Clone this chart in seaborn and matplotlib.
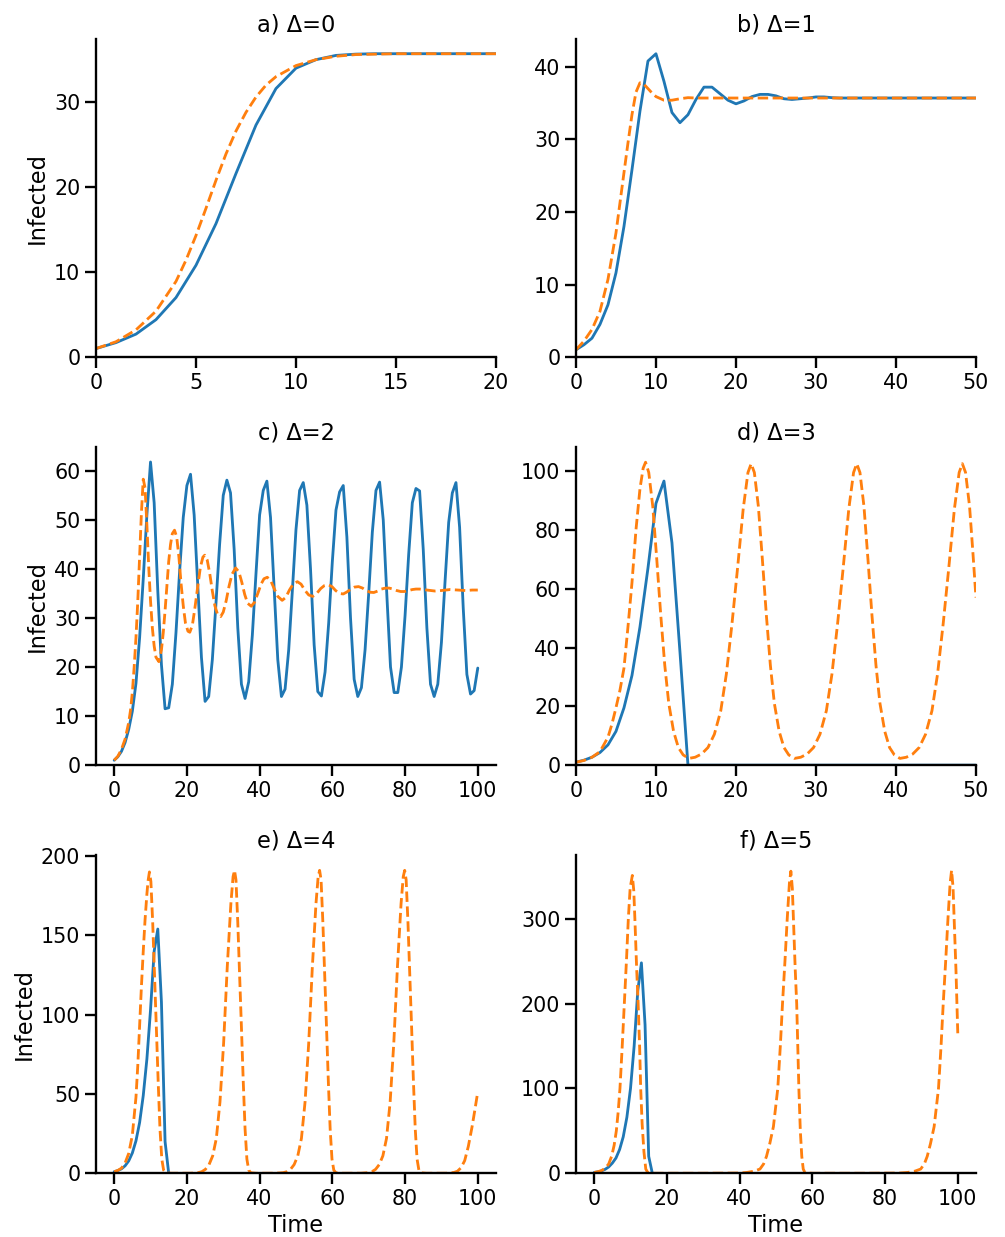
import numpy as np
import matplotlib
matplotlib.use("Agg")
import matplotlib.pyplot as plt
import seaborn as sns

# --- values ------------------------------------------------------------
# blue = discrete model, one value per time step
disc_a = [1.0, 1.7, 2.7, 4.4, 7.0, 10.8, 15.7, 21.6, 27.3, 31.6, 34.0, 35.0, 35.5,
          35.65, 35.7, 35.7, 35.7, 35.7, 35.7, 35.7, 35.7]
disc_b = [1.0, 1.7, 2.6, 4.5, 7.2, 11.6, 18.0, 25.8, 33.9, 40.8, 41.8, 38.0, 33.7,
          32.3, 33.4, 35.5, 37.2, 37.2, 36.3, 35.4, 34.9, 35.3, 35.9, 36.2, 36.2,
          36.0, 35.6, 35.5, 35.6, 35.7, 35.85, 35.85, 35.75, 35.7, 35.7, 35.7, 35.7,
          35.7, 35.7, 35.7, 35.7, 35.7, 35.7, 35.7, 35.7, 35.7, 35.7, 35.7, 35.7,
          35.7, 35.7]
disc_c = [1.0, 1.7, 2.8, 4.6, 7.3, 11.0, 16.7, 26.0, 38.0, 51.0, 61.8, 53.5, 35.5,
          20.5, 11.5, 11.7, 16.5, 27.0, 39.5, 50.5, 57.0, 59.3, 51.0, 36.5, 22.0,
          13.0, 14.0, 21.5, 33.0, 45.0, 55.0, 58.1, 55.5, 44.0, 28.0, 16.5, 13.6,
          17.0, 26.5, 39.0, 51.0, 56.0, 57.9, 50.5, 36.0, 21.5, 14.0, 15.5, 23.5,
          35.5, 48.0, 56.0, 57.6, 53.0, 40.0, 24.5, 15.0, 14.1, 19.0, 29.0, 41.5,
          52.0, 55.7, 57.0, 46.5, 30.0, 17.5, 14.0, 15.8, 23.5, 35.0, 47.5, 56.0,
          57.7, 50.0, 34.5, 20.0, 14.8, 14.8, 20.0, 30.5, 43.0, 53.5, 56.4, 55.9,
          44.0, 28.0, 16.5, 14.0, 16.5, 25.0, 37.5, 49.5, 55.5, 57.6, 48.5, 32.0,
          18.5, 14.5, 15.2, 19.8]
disc_d = [1.0, 1.7, 2.7, 4.3, 6.9, 11.5, 19.5, 30.5, 47.0, 67.0, 89.0, 96.6, 75.6,
          38.5, 0.0, 0.0, 0.0, 0.0, 0.0, 0.0, 0.0, 0.0, 0.0, 0.0, 0.0, 0.0, 0.0,
          0.0, 0.0, 0.0, 0.0, 0.0, 0.0, 0.0, 0.0, 0.0, 0.0, 0.0, 0.0, 0.0, 0.0,
          0.0, 0.0, 0.0, 0.0, 0.0, 0.0, 0.0, 0.0, 0.0, 0.0]
disc_e = [1.0, 1.7, 2.8, 4.7, 7.8, 12.8, 20.5, 32.0, 49.0, 72.0, 103.0, 140.0,
          154.0, 108.0, 20.0, 0.0]
disc_f = [1.0, 1.7, 2.8, 4.6, 7.5, 12.0, 18.0, 28.0, 43.0, 66.0, 100.0, 150.0,
          215.0, 248.0, 175.0, 20.0, 0.0]

# orange = continuous model, (time, value) pairs
cont_a_t = [0, 1, 2, 3, 4, 4.5, 5, 5.5, 6, 6.5, 7, 7.5, 8, 8.5, 9, 10, 11, 12, 13,
            14, 15, 20]
cont_a = [1.0, 1.8, 3.2, 5.4, 8.9, 11.4, 14.3, 17.5, 20.8, 23.9, 26.6, 28.8, 30.6,
          32.0, 33.0, 34.3, 35.0, 35.4, 35.6, 35.65, 35.7, 35.7]

cont_b_t = [0, 1, 2, 3, 4, 5, 6, 6.5, 7, 7.5, 8, 8.5, 9, 9.5, 10, 11, 12, 13, 14,
            15, 20, 30, 40, 50]
cont_b = [1.0, 2.2, 3.8, 6.3, 10.7, 17.1, 25.4, 29.5, 33.4, 36.5, 37.8, 37.6, 37.0,
          36.4, 35.9, 35.4, 35.4, 35.6, 35.75, 35.7, 35.7, 35.7, 35.7, 35.7]

cont_c_t = [0, 1, 2, 3, 4, 4.5, 5, 5.5, 6, 6.5, 7, 7.5, 8, 8.5, 9, 9.5, 10, 10.5,
            11, 11.5, 12.3, 13, 13.5, 14, 14.5, 15, 15.5, 16, 16.6, 17.2, 17.8, 18.4,
            19, 19.6, 20.3, 20.8, 21.5, 22.2, 23, 23.7, 24.4, 24.9, 25.6, 26.3, 27,
            27.7, 28.4, 29.3, 30, 30.8, 31.6, 32.4, 33.4, 34.3, 35.1, 35.9, 36.7,
            37.7, 38.6, 39.5, 40.4, 41.2, 42.1, 43, 44, 45, 46.2, 47.2, 48.2, 49.3,
            50.4, 51.4, 52.5, 53.5, 54.6, 55.7, 56.8, 57.8, 58.8, 59.9, 60.9, 62,
            63, 64, 65.1, 66.1, 67.2, 68.3, 69.3, 70.4, 71.4, 72.5, 73.5, 74.6, 75.6,
            76.7, 77.7, 78.8, 79.8, 81, 82, 83, 84, 86, 88.2, 90, 92.4, 94.5, 96.6,
            98.5, 100]
cont_c = [1.0, 1.8, 3.2, 5.3, 8.7, 11.2, 14.8, 20.0, 26.0, 33.5, 42.5, 51.5, 58.3,
          56.5, 49.0, 40.5, 33.5, 28.0, 24.3, 22.0, 21.1, 23.5, 27.0, 31.5, 36.5,
          41.5, 45.0, 47.2, 47.9, 46.5, 42.5, 37.0, 32.5, 29.0, 27.3, 27.1, 28.5,
          32.0, 36.5, 40.3, 42.4, 42.8, 41.8, 39.0, 35.5, 32.5, 30.8, 30.3, 31.2,
          33.5, 36.5, 38.9, 40.2, 39.4, 37.3, 34.8, 33.0, 32.4, 33.2, 35.0, 36.9,
          38.0, 38.3, 37.7, 36.0, 34.4, 33.6, 34.2, 35.7, 37.0, 37.4, 36.9, 35.6,
          34.7, 34.4, 35.0, 36.0, 36.6, 36.8, 36.4, 35.6, 35.0, 34.9, 35.3, 35.9,
          36.3, 36.4, 36.1, 35.6, 35.25, 35.2, 35.5, 35.9, 36.1, 36.1, 35.9, 35.6,
          35.4, 35.4, 35.6, 35.8, 35.9, 35.9, 35.7, 35.5, 35.6, 35.8, 35.7, 35.6,
          35.7, 35.7]

cont_d_t = [0, 1, 2, 3, 4, 4.5, 5, 5.5, 6, 6.5, 7, 7.5, 8, 8.4, 8.7,
            9.1, 9.6, 10.1, 10.6, 11.1, 11.6, 12.2, 12.8, 13.4, 14.1,
            14.9, 15.7, 16.5, 17.3, 18.1, 18.8, 19.5, 20.2, 20.9, 21.5, 21.9,
            22.3, 22.8, 23.3, 23.8, 24.3, 24.8, 25.4, 26.0, 26.6, 27.3,
            28.1, 28.9, 29.7, 30.5, 31.3, 32.0, 32.7, 33.4, 34.1, 34.7, 35.1,
            35.5, 36.0, 36.5, 37.0, 37.5, 38.0, 38.6, 39.2, 39.8, 40.5,
            41.3, 42.1, 42.9, 43.7, 44.5, 45.2, 45.9, 46.6, 47.3, 47.9, 48.3,
            48.7, 49.2, 49.6, 50.0]
cont_d = [1.0, 1.6, 2.7, 4.6, 9.5, 14.0, 19.5, 25.5, 33.0, 47.0, 62.0, 80.0, 94.0,
          101.0, 103.0,
          99.5, 88.0, 70.0, 51.0, 34.0, 21.0, 11.5, 6.0, 3.5, 2.3,
          2.7, 3.8, 6.0, 10.5, 18.5, 31.0, 48.0, 67.0, 87.0, 99.5, 102.5,
          99.5, 88.0, 70.0, 51.0, 34.0, 21.0, 11.5, 6.0, 3.5, 2.3,
          2.7, 3.8, 6.0, 10.5, 18.5, 31.0, 48.0, 67.0, 87.0, 99.5, 102.5,
          99.5, 88.0, 70.0, 51.0, 34.0, 21.0, 11.5, 6.0, 3.5, 2.3,
          2.7, 3.8, 6.0, 10.5, 18.5, 31.0, 48.0, 67.0, 87.0, 99.5, 102.5,
          99.5, 88.0, 73.0, 57.0]

cont_e_t = [0, 1, 2, 3, 4, 5, 6, 6.5, 7, 7.5, 8, 8.5, 9, 9.3, 9.7, 10.1, 10.6,
            11.1, 11.6, 12.1, 12.6, 13.1, 13.6, 14.2, 15.7,
            21.1, 23.1, 24.1, 25.1, 26.1, 27.1, 28.1, 29.1, 30.1, 31.1, 32.1, 32.7,
            33.1, 33.5, 34.0, 34.5, 35.0, 35.5, 36.0, 36.5, 37.0, 37.6, 39.1,
            44.5, 46.5, 47.5, 48.5, 49.5, 50.5, 51.5, 52.5, 53.5, 54.5, 55.5, 56.1,
            56.5, 56.9, 57.4, 57.9, 58.4, 58.9, 59.4, 59.9, 60.4, 61.0, 62.5,
            67.9, 69.9, 70.9, 71.9, 72.9, 73.9, 74.9, 75.9, 76.9, 77.9, 78.9, 79.5,
            79.9, 80.3, 80.8, 81.3, 81.8, 82.3, 82.8, 83.3, 83.8, 84.4, 85.9,
            91.4, 93.4, 94.4, 95.4, 96.4, 97.4, 98.4, 99.2, 100]
cont_e = [1.0, 1.8, 3.2, 6.5, 12.5, 24.0, 48.0, 68.0, 93.0, 118.0, 140.0, 160.0,
          176.0, 184.0, 190.0, 184.0, 158.0, 125.0, 92.0, 58.0, 28.0, 9.0, 2.0,
          0.3, 0.02,
          0.05, 0.4, 1.0, 2.5, 5.5, 11.0, 22.0, 45.0, 82.0, 130.0, 170.0, 187.0,
          191.0, 185.0, 158.0, 125.0, 92.0, 58.0, 28.0, 9.0, 2.0, 0.3, 0.02,
          0.05, 0.4, 1.0, 2.5, 5.5, 11.0, 22.0, 45.0, 82.0, 130.0, 170.0, 187.0,
          191.0, 185.0, 158.0, 125.0, 92.0, 58.0, 28.0, 9.0, 2.0, 0.3, 0.02,
          0.05, 0.4, 1.0, 2.5, 5.5, 11.0, 22.0, 45.0, 82.0, 130.0, 170.0, 187.0,
          191.0, 185.0, 158.0, 125.0, 92.0, 58.0, 28.0, 9.0, 2.0, 0.3, 0.02,
          0.05, 0.5, 1.3, 3.5, 8.0, 17.0, 29.0, 40.0, 51.4]

cont_f_t = [0, 1, 2, 3, 4, 4.8, 5.5, 6.1, 6.6, 7.1, 7.7, 8.3, 8.9, 9.4, 9.9, 10.5,
            10.9, 11.2, 11.7, 12.1, 12.5, 12.8, 13.2, 13.7, 14.2, 14.8, 16, 30,
            40, 42, 44, 45.6, 46.6, 47.4, 48.3, 49.3, 50.5, 51.2, 51.8, 52.5, 53.1,
            53.7, 54.1, 54.5, 54.8, 55.3, 55.7, 56.0, 56.3, 56.7, 57.1, 57.5, 58.0,
            60, 75, 84, 86.2, 88.2, 89.8, 90.8, 91.6, 92.5, 93.5, 94.7, 95.4, 96.0,
            96.7, 97.3, 97.9, 98.3, 98.7, 99.0, 99.5, 100]
cont_f = [1.0, 1.8, 3.2, 5.8, 11.0, 20.0, 33.0, 50.0, 72.0, 100.0, 148.0, 200.0,
          252.0, 300.0, 336.0, 351.0, 333.0, 300.0, 240.0, 200.0, 150.0, 100.0,
          58.0, 25.0, 5.0, 0.5, 0.05, 0.05,
          0.3, 1.0, 2.5, 5.0, 11.0, 20.0, 35.0, 55.0, 100.0, 150.0, 200.0, 252.0,
          300.0, 342.0, 356.0, 336.0, 300.0, 240.0, 200.0, 150.0, 100.0, 50.0,
          20.0, 5.0, 0.5, 0.05, 0.05,
          0.3, 1.0, 2.5, 5.0, 11.0, 20.0, 35.0, 55.0, 100.0, 150.0, 200.0, 252.0,
          300.0, 342.0, 357.0, 337.0, 300.0, 240.0, 165.0]

titles = ["a) \u0394=0", "b) \u0394=1", "c) \u0394=2", "d) \u0394=3", "e) \u0394=4", "f) \u0394=5"]
xlims = [(0, 20), (0, 50), None, (0, 50), None, None]

panels = [
    (disc_a, cont_a_t, cont_a),
    (disc_b, cont_b_t, cont_b),
    (disc_c, cont_c_t, cont_c),
    (disc_d, cont_d_t, cont_d),
    (disc_e, cont_e_t, cont_e),
    (disc_f, cont_f_t, cont_f),
]

sns.set_style("ticks", {"axes.edgecolor": "black", "text.color": "black",
                        "axes.labelcolor": "black", "xtick.color": "black",
                        "ytick.color": "black"})
sns.set_context("talk")

blue = "#1f77b4"
orange = "#ff7f0e"

fig, axes = plt.subplots(3, 2, figsize=(1005 / 90, 1237 / 90), dpi=90)
fig.subplots_adjust(left=0.0955, right=0.9711, bottom=0.0515, top=0.9685,
                    wspace=0.2, hspace=0.283)
axes = axes.ravel()

for i, ax in enumerate(axes):
    disc, ct, cv = panels[i]
    sns.lineplot(x=np.arange(len(disc)), y=disc, ax=ax, color=blue)
    sns.lineplot(x=ct, y=cv, ax=ax, color=orange, linestyle="--")
    if xlims[i] is not None:
        ax.set_xlim(*xlims[i])
    ax.set_ylim(bottom=0)
    ax.set_title(titles[i])
    ax.set_ylabel("Infected" if i % 2 == 0 else "")
    ax.set_xlabel("Time" if i >= 4 else "")

sns.despine(fig)
fig.savefig("out.png", dpi=90)
